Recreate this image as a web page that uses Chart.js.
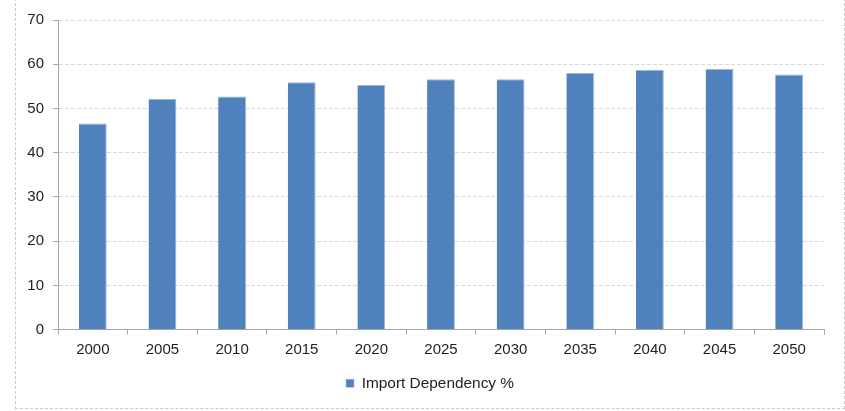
<!DOCTYPE html>
<html>
<head>
<meta charset="utf-8">
<script src="https://cdn.jsdelivr.net/npm/chart.js@4/dist/chart.umd.min.js"></script>
<style>
  html, body { margin: 0; padding: 0; background: #fff; }
  #wrap { position: relative; width: 845px; height: 411px; overflow: hidden; }
  #frame { position: absolute; left: 15px; top: -2px; width: 828px; height: 409px; border: 1px dashed #c9c9c9; }
  #c { position: absolute; left: 0; top: 0; }
</style>
</head>
<body>
<div id="wrap">
  <div id="frame"></div>
  <canvas id="c" width="845" height="411"></canvas>
</div>
<script>
// Projected import dependency, every five years
const years = ['2000', '2005', '2010', '2015', '2020', '2025', '2030', '2035', '2040', '2045', '2050'];
const importDependency = [46.6, 52.2, 52.7, 55.9, 55.3, 56.6, 56.6, 58.0, 58.7, 58.9, 57.7];
const seriesName = 'Import Dependency %';
const yTicks = [0, 10, 20, 30, 40, 50, 60, 70];

const textColor = '#1f1f1f';
const axisColor = '#a6a6a6';
const gridColor = '#d9d9d9';
const fontFamily = 'Liberation Sans, Arial, sans-serif';

// Centre the legend under the framed panel rather than under the canvas
const legendShift = {
  id: 'legendShift',
  beforeDraw(chart) {
    const lg = chart.legend;
    if (!lg || lg._shifted) return;
    const d = 6;
    lg.left += d;
    lg.right += d;
    lg._shifted = true;
  }
};

new Chart(document.getElementById('c'), {
  type: 'bar',
  data: {
    labels: years,
    datasets: [{
      label: seriesName,
      data: importDependency,
      backgroundColor: '#4f81bd',
      borderColor: '#9db8dc',
      borderWidth: { top: 1, right: 1, left: 0, bottom: 0 },
      categoryPercentage: 1.0,
      barPercentage: 0.4
    }]
  },
  plugins: [legendShift],
  options: {
    responsive: false,
    animation: false,
    devicePixelRatio: 1,
    layout: { padding: { left: 24, right: 21, top: 20, bottom: 10 } },
    plugins: {
      tooltip: { enabled: false },
      legend: {
        position: 'bottom',
        labels: {
          color: textColor,
          font: { family: fontFamily, size: 15.4 },
          boxWidth: 8,
          boxHeight: 8,
          padding: 10
        }
      }
    },
    scales: {
      x: {
        offset: true,
        grid: {
          offset: true,
          drawOnChartArea: false,
          drawTicks: true,
          tickLength: 5,
          tickColor: axisColor
        },
        border: { color: axisColor, width: 1 },
        ticks: {
          color: textColor,
          padding: 6,
          font: { family: fontFamily, size: 15 },
          maxRotation: 0
        },
        afterFit: (scale) => { scale.height = 36; }
      },
      y: {
        min: 0,
        max: 70,
        afterBuildTicks: (scale) => { scale.ticks = yTicks.map(v => ({ value: v })); },
        grid: {
          color: gridColor,
          lineWidth: 1,
          drawTicks: true,
          tickLength: 5,
          tickColor: axisColor
        },
        border: { color: axisColor, width: 1, dash: [4, 2] },
        ticks: {
          color: textColor,
          padding: 9,
          font: { family: fontFamily, size: 15 }
        },
        afterFit: (scale) => { scale.width = 34; }
      }
    }
  }
});
</script>
</body>
</html>
